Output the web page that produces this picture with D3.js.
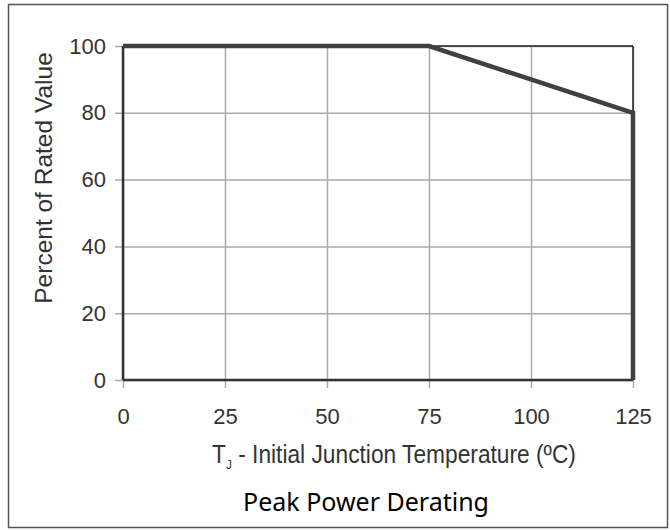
<!DOCTYPE html>
<html>
<head>
<meta charset="utf-8">
<script src="https://cdn.jsdelivr.net/npm/d3@7"></script>
<style>
  body { margin: 0; background: #fff; }
  svg { display: block; }
</style>
</head>
<body>
<div id="chart"></div>
<script>
/* -----------------------
data
------------------------- */
var tempC = [0, 75, 125, 125];
var percentRated = [100, 100, 80, 0];
var xTicks = [0, 25, 50, 75, 100, 125];
var yTicks = [0, 20, 40, 60, 80, 100];

/* -----------------------
main variables
------------------------- */
var width = 670, height = 530;
var plotL = 123, plotR = 633, plotT = 46, plotB = 380;

var svg = d3.select("#chart")
  .append("svg")
  .attr("width", width)
  .attr("height", height);

svg.append("rect")
  .attr("x", 8.5).attr("y", 4.5)
  .attr("width", 659).attr("height", 523)
  .attr("fill", "#fff")
  .attr("stroke", "#555")
  .attr("stroke-width", 1.5);

var x = d3.scaleLinear().domain([0, 125]).range([plotL, plotR]);
var y = d3.scaleLinear().domain([0, 100]).range([plotB, plotT]);

var tickFont = "'Liberation Sans', Arial, sans-serif";

// vertical grid + x ticks
var gx = svg.append("g")
  .attr("transform", "translate(0," + (plotB + 8) + ")")
  .call(d3.axisBottom(x).tickValues(xTicks).tickSize(-(plotB + 8 - plotT)).tickPadding(20));
gx.select(".domain").remove();
gx.selectAll(".tick line").attr("stroke", "#aaa").attr("stroke-width", 1.5);
gx.selectAll(".tick text")
  .attr("fill", "#333")
  .style("font-family", tickFont)
  .style("font-size", "22px");

// horizontal grid + y ticks
var gy = svg.append("g")
  .attr("transform", "translate(" + (plotL - 8) + ",0)")
  .call(d3.axisLeft(y).tickValues(yTicks).tickSize(-(plotR - plotL + 8)).tickPadding(9));
gy.select(".domain").remove();
gy.selectAll(".tick line").attr("stroke", "#aaa").attr("stroke-width", 1.5);
gy.selectAll(".tick text")
  .attr("fill", "#333")
  .style("font-family", tickFont)
  .style("font-size", "22px");

// frame
svg.append("line")
  .attr("x1", x(0)).attr("x2", x(125)).attr("y1", y(100)).attr("y2", y(100))
  .attr("stroke", "#222").attr("stroke-width", 1.5);
svg.append("line")
  .attr("x1", x(125)).attr("x2", x(125)).attr("y1", y(100)).attr("y2", y(0))
  .attr("stroke", "#222").attr("stroke-width", 1.5);
svg.append("line")
  .attr("x1", x(0)).attr("x2", x(125)).attr("y1", y(0)).attr("y2", y(0))
  .attr("stroke", "#333").attr("stroke-width", 2.5);
svg.append("line")
  .attr("x1", x(0)).attr("x2", x(0)).attr("y1", y(100)).attr("y2", y(0))
  .attr("stroke", "#333").attr("stroke-width", 2.5);

// derating curve
var pts = tempC.map(function(t, i) { return [t, percentRated[i]]; });
var line = d3.line()
  .x(function(d) { return x(d[0]); })
  .y(function(d) { return y(d[1]); });

svg.append("path")
  .datum(pts)
  .attr("d", line)
  .attr("fill", "none")
  .attr("stroke", "#404040")
  .attr("stroke-width", 4.5)
  .attr("stroke-linejoin", "miter");

// axis titles
svg.append("text")
  .attr("transform", "translate(52,178) rotate(-90)")
  .attr("text-anchor", "middle")
  .attr("fill", "#333")
  .style("font-family", tickFont)
  .style("font-size", "24.5px")
  .text("Percent of Rated Value");

var xl = svg.append("text")
  .attr("transform", "translate(394,463) scale(0.91,1)")
  .attr("text-anchor", "middle")
  .attr("fill", "#333")
  .style("font-family", tickFont)
  .style("font-size", "25px");
xl.append("tspan").text("T");
xl.append("tspan").attr("dy", 6).style("font-size", "13px").text("J");
xl.append("tspan").attr("dy", -6).text(" - Initial Junction Temperature (ºC)");

svg.append("text")
  .attr("x", 366).attr("y", 511)
  .attr("text-anchor", "middle")
  .attr("fill", "#000")
  .style("font-family", "'Noto Sans', 'Open Sans', sans-serif")
  .style("font-size", "25px")
  .text("Peak Power Derating");
</script>
</body>
</html>
